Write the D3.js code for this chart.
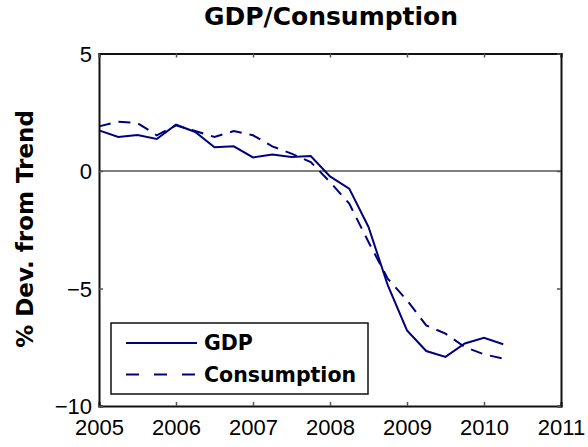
<!DOCTYPE html>
<html lang="en">
<head>
    <meta charset="UTF-8">
    <title>GDP/Consumption</title>
    <script src="https://d3js.org/d3.v7.min.js"></script>
    <style>
        body { margin: 0; background: #fff; }
        text { font-family: "Liberation Sans", Arial, sans-serif; }
        .bold { font-family: "DejaVu Sans", sans-serif; font-weight: bold; }
    </style>
</head>
<body>
    <svg width="588" height="447"></svg>
</body>
<script>
    // quarterly dates, 2005Q1 .. 2010Q2
    let quarters = [2005, 2005.25, 2005.5, 2005.75, 2006, 2006.25, 2006.5, 2006.75,
        2007, 2007.25, 2007.5, 2007.75, 2008, 2008.25, 2008.5, 2008.75,
        2009, 2009.25, 2009.5, 2009.75, 2010, 2010.25]
    let gdp = [1.73, 1.45, 1.53, 1.36, 1.97, 1.66, 1.01, 1.05,
        0.58, 0.70, 0.60, 0.64, -0.23, -0.75, -2.38, -4.86,
        -6.78, -7.66, -7.91, -7.34, -7.10, -7.37]
    let consumption = [1.90, 2.10, 2.04, 1.52, 1.94, 1.70, 1.45, 1.70,
        1.52, 1.05, 0.74, 0.38, -0.47, -1.39, -3.02, -4.58,
        -5.50, -6.57, -6.92, -7.49, -7.80, -7.98]
    let xTicks = [2005, 2006, 2007, 2008, 2009, 2010, 2011]
    let yTicks = [-10, -5, 0, 5]

    let m = {left: 99, right: 561, top: 53.5, bottom: 406}
    let navy = '#00007f'

    let svg = d3.select('svg')

    let x = d3.scaleLinear().domain([2005, 2011]).range([m.left, m.right])
    let y = d3.scaleLinear().domain([-10, 5]).range([m.bottom, m.top])

    // zero line
    svg.append('line')
        .attr('x1', m.left).attr('x2', m.right)
        .attr('y1', y(0)).attr('y2', y(0))
        .attr('stroke', '#555').attr('stroke-width', 1.5)

    let line = d3.line().x(d => x(d[0])).y(d => y(d[1]))

    svg.append('path')
        .datum(quarters.map((q, i) => [q, gdp[i]]))
        .attr('d', line)
        .attr('fill', 'none').attr('stroke', navy).attr('stroke-width', 2)

    svg.append('path')
        .datum(quarters.map((q, i) => [q, consumption[i]]))
        .attr('d', line)
        .attr('fill', 'none').attr('stroke', navy).attr('stroke-width', 2)
        .attr('stroke-dasharray', '12,8')

    // axes, ticks pointing inward, mirrored on top and right
    let xAxis = svg.append('g')
        .attr('transform', `translate(0,${m.bottom})`)
        .call(d3.axisBottom(x).tickValues(xTicks).tickFormat(d3.format('d')).tickSize(-4))
    let yAxis = svg.append('g')
        .attr('transform', `translate(${m.left},0)`)
        .call(d3.axisLeft(y).tickValues(yTicks).tickFormat(d => d < 0 ? '\u2212' + (-d) : d).tickSize(-4).tickPadding(7))
    svg.append('g')
        .attr('transform', `translate(0,${m.top})`)
        .call(d3.axisTop(x).tickValues(xTicks).tickFormat('').tickSize(-4))
    svg.append('g')
        .attr('transform', `translate(${m.right},0)`)
        .call(d3.axisRight(y).tickValues(yTicks).tickFormat('').tickSize(-4))

    svg.selectAll('.domain').attr('stroke', '#111').attr('stroke-width', 2)
    svg.selectAll('.tick line').attr('stroke', '#555').attr('stroke-width', 1.5)
    svg.selectAll('.tick text').attr('fill', '#000').style('font-size', '22px')
    xAxis.selectAll('.tick text').attr('y', 29).attr('dy', 0)
    yAxis.selectAll('.tick text').attr('dy', '0.36em')

    // title and axis label
    svg.append('text')
        .attr('class', 'bold')
        .attr('x', 331).attr('y', 25)
        .attr('text-anchor', 'middle')
        .style('font-size', '25px')
        .text('GDP/Consumption')

    svg.append('text')
        .attr('class', 'bold')
        .attr('transform', `translate(33,229) rotate(-90)`)
        .attr('text-anchor', 'middle')
        .style('font-size', '23px')
        .text('% Dev. from Trend')

    // legend
    let legend = svg.append('g')
    legend.append('rect')
        .attr('x', 111).attr('y', 323).attr('width', 257).attr('height', 71)
        .attr('fill', '#fff').attr('stroke', '#111').attr('stroke-width', 1.5)

    let entries = [{name: 'GDP', dash: null}, {name: 'Consumption', dash: '13,15'}]
    entries.forEach((e, i) => {
        let ly = 343 + i * 31.5
        legend.append('line')
            .attr('x1', 126).attr('x2', 197).attr('y1', ly).attr('y2', ly)
            .attr('stroke', navy).attr('stroke-width', 2)
            .attr('stroke-dasharray', e.dash)
        legend.append('text')
            .attr('class', 'bold')
            .attr('x', 204).attr('y', ly).attr('dy', '0.36em')
            .style('font-size', '20.5px')
            .text(e.name)
    })
</script>
</html>
